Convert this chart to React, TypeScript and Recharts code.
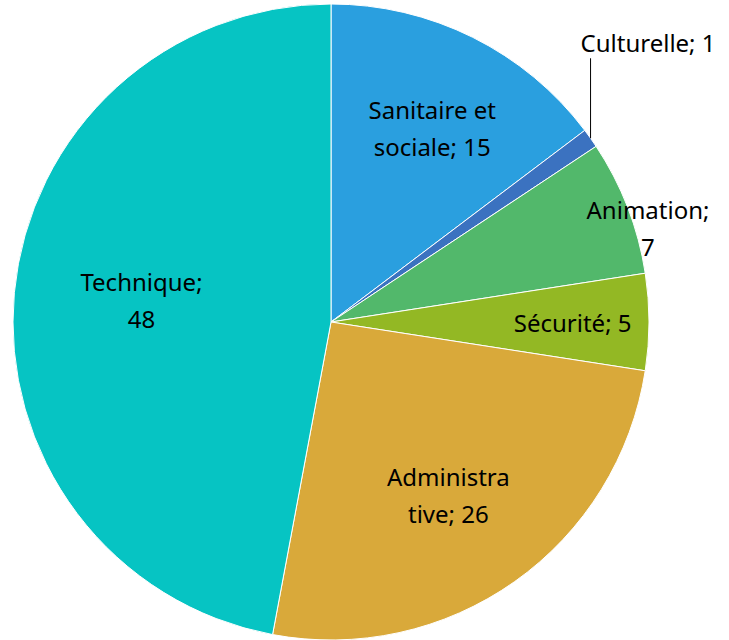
import React from 'react';
import { PieChart, Pie, Cell } from 'recharts';

const categories = ['Sanitaire et sociale', 'Culturelle', 'Animation', 'Sécurité', 'Administrative', 'Technique'];
const values = [15, 1, 7, 5, 26, 48];
const colors = ['#2a9fdf', '#3b72c0', '#52b86b', '#93b824', '#d9a93a', '#06c4c3'];
// how each label is broken into lines (Excel-style wrapping)
const labelLines = [
  ['Sanitaire et', 'sociale; 15'],
  ['Culturelle; 1'],
  ['Animation;', '7'],
  ['Sécurité; 5'],
  ['Administra', 'tive; 26'],
  ['Technique;', '48'],
];
// radius ratio and angle nudge (deg) for each label centre
const labelRadius = [0.69, 1.2, 1.04, 0.76, 0.655, 0.6];
const labelNudge = [-1, 0, -4.6, 0, -1, -1.4];

const data = categories.map((name, i) => ({ name, value: values[i] }));

const RAD = Math.PI / 180;
const FONT = '"Noto Sans", sans-serif';
const FS = 24;

const renderLabel = (props: any) => {
  const { cx, cy, midAngle, outerRadius, index } = props;
  const lines = labelLines[index];
  const lineH = 37;
  if (index === 1) {
    // outside label with vertical leader
    const ex = cx + outerRadius * Math.cos(-midAngle * RAD);
    const ey = cy + outerRadius * Math.sin(-midAngle * RAD);
    return (
      <g>
        <line x1={ex} y1={ey} x2={ex} y2={ey - 80} stroke="#000" strokeWidth={1} />
        <text x={ex - 10} y={ey - 86} fill="#000" fontSize={FS} fontFamily={FONT} textAnchor="start">
          {lines[0]}
        </text>
      </g>
    );
  }
  const a = midAngle + labelNudge[index];
  const r = outerRadius * labelRadius[index];
  const x = cx + r * Math.cos(-a * RAD);
  const y = cy + r * Math.sin(-a * RAD);
  const top = y - ((lines.length - 1) * lineH) / 2;
  return (
    <text x={x} y={top} fill="#000" fontSize={FS} fontFamily={FONT} textAnchor="middle" dominantBaseline="central">
      {lines.map((l, k) => (
        <tspan key={k} x={x} y={top + k * lineH}>{l}</tspan>
      ))}
    </text>
  );
};

const App: React.FC = () => (
  <div style={{ position: 'absolute', left: 0, top: 0, width: 729, height: 640, background: '#fff' }}>
    <PieChart width={729} height={640} margin={{ top: 0, right: 0, bottom: 0, left: 0 }}>
      <Pie
        data={data}
        dataKey="value"
        nameKey="name"
        cx={331}
        cy={322}
        outerRadius={318}
        startAngle={90}
        endAngle={-270}
        stroke="#fff"
        strokeWidth={1}
        label={renderLabel}
        labelLine={false}
        isAnimationActive={false}
      >
        {data.map((d, i) => (
          <Cell key={d.name} fill={colors[i]} />
        ))}
      </Pie>
    </PieChart>
  </div>
);

export default App;
